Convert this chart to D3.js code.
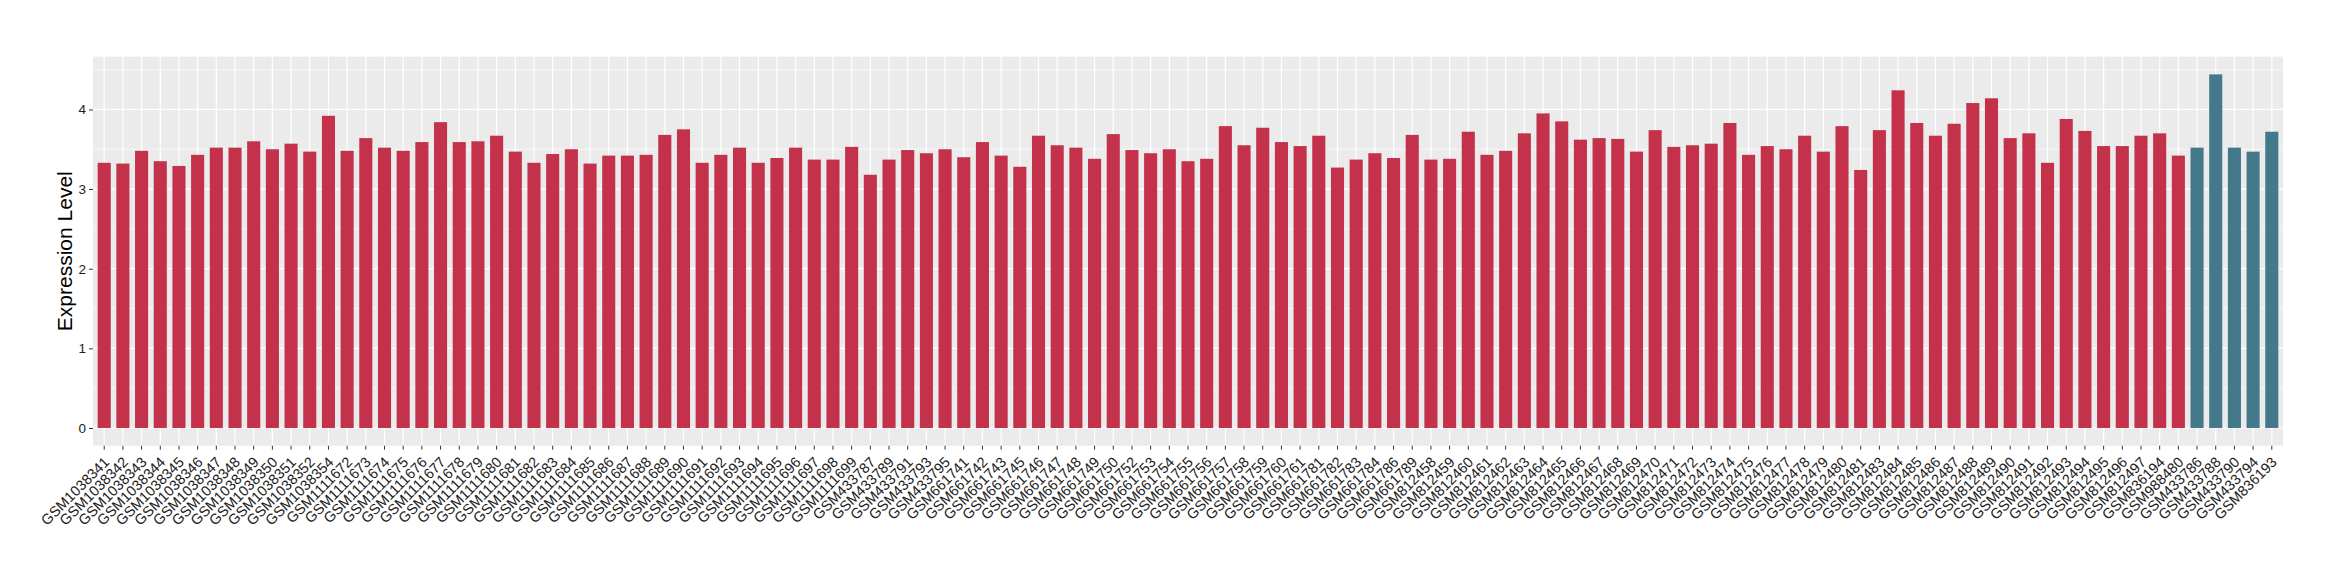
<!DOCTYPE html>
<html>
<head>
<meta charset="utf-8">
<script src="https://cdn.jsdelivr.net/npm/d3@7"></script>
<style>
  body { margin: 0; background: #fff; }
  text { font-family: "Liberation Sans", Arial, sans-serif; }
</style>
</head>
<body>
<div id="chart"></div>
<script>
// samples shown in red
var redIds = [
  'GSM1038341', 'GSM1038342', 'GSM1038343', 'GSM1038344', 'GSM1038345', 'GSM1038346', 'GSM1038347',
  'GSM1038348', 'GSM1038349', 'GSM1038350', 'GSM1038351', 'GSM1038352', 'GSM1038354',
  'GSM1111672', 'GSM1111673', 'GSM1111674', 'GSM1111675', 'GSM1111676', 'GSM1111677', 'GSM1111678',
  'GSM1111679', 'GSM1111680', 'GSM1111681', 'GSM1111682', 'GSM1111683', 'GSM1111684', 'GSM1111685',
  'GSM1111686', 'GSM1111687', 'GSM1111688', 'GSM1111689', 'GSM1111690', 'GSM1111691', 'GSM1111692',
  'GSM1111693', 'GSM1111694', 'GSM1111695', 'GSM1111696', 'GSM1111697', 'GSM1111698', 'GSM1111699',
  'GSM433787', 'GSM433789', 'GSM433791', 'GSM433793', 'GSM433795',
  'GSM661741', 'GSM661742', 'GSM661743', 'GSM661745', 'GSM661746', 'GSM661747', 'GSM661748',
  'GSM661749', 'GSM661750', 'GSM661752', 'GSM661753', 'GSM661754', 'GSM661755', 'GSM661756',
  'GSM661757', 'GSM661758', 'GSM661759', 'GSM661760', 'GSM661761', 'GSM661781', 'GSM661782',
  'GSM661783', 'GSM661784', 'GSM661786', 'GSM661789',
  'GSM812458', 'GSM812459', 'GSM812460', 'GSM812461', 'GSM812462', 'GSM812463', 'GSM812464',
  'GSM812465', 'GSM812466', 'GSM812467', 'GSM812468', 'GSM812469', 'GSM812470', 'GSM812471',
  'GSM812472', 'GSM812473', 'GSM812474', 'GSM812475', 'GSM812476', 'GSM812477', 'GSM812478',
  'GSM812479', 'GSM812480', 'GSM812481', 'GSM812483', 'GSM812484', 'GSM812485', 'GSM812486',
  'GSM812487', 'GSM812488', 'GSM812489', 'GSM812490', 'GSM812491', 'GSM812492', 'GSM812493',
  'GSM812494', 'GSM812495', 'GSM812496', 'GSM812497', 'GSM836194', 'GSM988480'];

var redValues = [
  3.33, 3.32, 3.48, 3.35, 3.29, 3.43, 3.52, 3.52, 3.60, 3.50, 3.57, 3.47, 3.92, 3.48, 3.64, 3.52, 3.48, 3.59, 3.84, 3.59,
  3.60, 3.67, 3.47, 3.33, 3.44, 3.50, 3.32, 3.42, 3.42, 3.43, 3.68, 3.75, 3.33, 3.43, 3.52, 3.33, 3.39, 3.52, 3.37, 3.37,
  3.53, 3.18, 3.37, 3.49, 3.45, 3.50, 3.40, 3.59, 3.42, 3.28, 3.67, 3.55, 3.52, 3.38, 3.69, 3.49, 3.45, 3.50, 3.35, 3.38,
  3.79, 3.55, 3.77, 3.59, 3.54, 3.67, 3.27, 3.37, 3.45, 3.39, 3.68, 3.37, 3.38, 3.72, 3.43, 3.48, 3.70, 3.95, 3.85, 3.62,
  3.64, 3.63, 3.47, 3.74, 3.53, 3.55, 3.57, 3.83, 3.43, 3.54, 3.50, 3.67, 3.47, 3.79, 3.24, 3.74, 4.24, 3.83, 3.67, 3.82,
  4.08, 4.14, 3.64, 3.70, 3.33, 3.88, 3.73, 3.54, 3.54, 3.67, 3.70, 3.42];

// samples shown in blue
var blueIds = ['GSM433786', 'GSM433788', 'GSM433790', 'GSM433794', 'GSM836193'];
var blueValues = [3.52, 4.44, 3.52, 3.47, 3.72];

var yTicks = [0, 1, 2, 3, 4];
var yMinor = [0.5, 1.5, 2.5, 3.5, 4.5];
var yTitle = 'Expression Level';

var redColor = '#C3314A';
var blueColor = '#44798B';

var data = redIds.map(function (id, i) {return { id: id, value: redValues[i], color: redColor };}).
concat(blueIds.map(function (id, i) {return { id: id, value: blueValues[i], color: blueColor };}));

var W = 2340, H = 580;
var margin = { top: 56.7, right: 57, bottom: 134.3, left: 93 };
var width = W - margin.left - margin.right;
var height = H - margin.top - margin.bottom;

var svg = d3.select('#chart').append('svg').
attr('width', W).
attr('height', H);

svg.append('rect').attr('width', W).attr('height', H).attr('fill', '#fff');

var g = svg.append('g').
attr('transform', 'translate(' + margin.left + ',' + margin.top + ')');

// ggplot style discrete scale: bar width 0.7, 0.6 expansion each side
var x = d3.scaleBand().
domain(data.map(function (d) {return d.id;})).
range([0, width]).
paddingInner(0.3).
paddingOuter(0.25);

var yMax = d3.max(data, function (d) {return d.value;});
var y = d3.scaleLinear().
domain([-0.05 * yMax, 1.05 * yMax]).
range([height, 0]);

// panel
g.append('rect').
attr('width', width).
attr('height', height).
attr('fill', '#EBEBEB');

g.selectAll('.minor').
data(yMinor).
enter().
append('line').
attr('x1', 0).attr('x2', width).
attr('y1', function (d) {return y(d);}).
attr('y2', function (d) {return y(d);}).
attr('stroke', '#fff').
attr('stroke-width', 0.6);

g.selectAll('.major-y').
data(yTicks).
enter().
append('line').
attr('x1', 0).attr('x2', width).
attr('y1', function (d) {return y(d);}).
attr('y2', function (d) {return y(d);}).
attr('stroke', '#fff').
attr('stroke-width', 1.2);

g.selectAll('.major-x').
data(data).
enter().
append('line').
attr('x1', function (d) {return x(d.id) + x.bandwidth() / 2;}).
attr('x2', function (d) {return x(d.id) + x.bandwidth() / 2;}).
attr('y1', 0).attr('y2', height).
attr('stroke', '#fff').
attr('stroke-width', 1.2);

// bars
g.selectAll('.bar').
data(data).
enter().
append('rect').
attr('x', function (d) {return x(d.id);}).
attr('width', x.bandwidth()).
attr('y', function (d) {return y(d.value);}).
attr('height', function (d) {return y(0) - y(d.value);}).
attr('fill', function (d) {return d.color;});

// axes
var yAxis = g.append('g').
call(d3.axisLeft(y).tickValues(yTicks).tickSize(4).tickPadding(3).tickFormat(d3.format('d')));
yAxis.select('.domain').remove();
yAxis.selectAll('line').attr('stroke', '#333');
yAxis.selectAll('text').
attr('fill', '#222').
style('font-size', '13.5px').
style('font-family', '"Liberation Sans", Arial, sans-serif');

var xAxis = g.append('g').
attr('transform', 'translate(0,' + height + ')').
call(d3.axisBottom(x).tickSize(4).tickPadding(0));
xAxis.select('.domain').remove();
xAxis.selectAll('line').attr('stroke', '#333');
xAxis.selectAll('text').
attr('fill', '#222').
attr('y', 0).
attr('dy', 0).
attr('text-anchor', 'end').
attr('transform', 'translate(6,17.3) rotate(-45)').
style('font-size', '14.5px').
style('font-family', '"Liberation Sans", Arial, sans-serif');

// y title
svg.append('text').
attr('transform', 'translate(71.5,' + (margin.top + height / 2) + ') rotate(-90)').
attr('text-anchor', 'middle').
style('font-size', '21px').
attr('fill', '#000').
text(yTitle);
</script>
</body>
</html>
